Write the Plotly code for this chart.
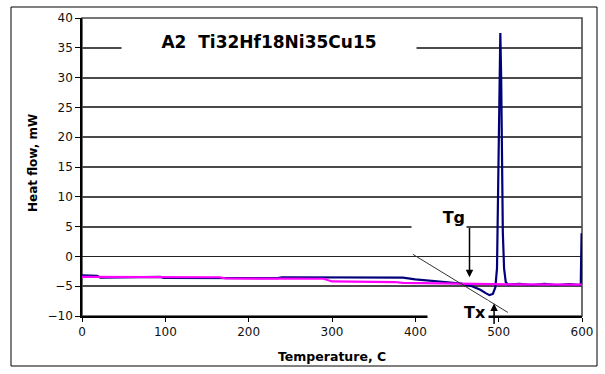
import plotly.graph_objects as go

# DSC scan of alloy A2 (Ti32Hf18Ni35Cu15): heating run and baseline run
blue_temp = [0, 18, 22, 65, 70, 94, 98, 150, 200, 235, 240, 300, 350, 385, 400, 420,
             440, 455, 468, 478, 485, 489, 493, 496, 498, 499, 500, 501, 502, 503,
             503.7, 504.3, 505, 506.5, 508.5, 511, 525, 540, 555, 570, 585, 598.5, 599.5]
blue_flow = [-3.2, -3.25, -3.55, -3.55, -3.45, -3.45, -3.6, -3.65, -3.7, -3.65, -3.5,
             -3.5, -3.5, -3.55, -3.85, -4.1, -4.35, -4.55, -5.0, -5.6, -6.2, -6.5, -6.3,
             -5.2, -2, 8, 22, 33, 37.5, 30, 21, 12.5, 4, -2, -4.3, -4.75, -4.6, -4.8,
             -4.6, -4.8, -4.65, -4.8, 3.9]

pink_temp = [0, 165, 172, 290, 300, 375, 385, 450, 520, 600]
pink_flow = [-3.45, -3.5, -3.7, -3.75, -4.2, -4.3, -4.45, -4.6, -4.7, -4.75]

# tangent used to locate the onset of crystallisation
tangent_temp = [397, 511]
tangent_flow = [0.35, -9.4]

# characteristic temperatures marked with arrows: (T, arrow tail, arrow head)
tg_mark = (465, 5.0, -3.5)
tx_mark = (494.5, -11.6, -7.9)

x_ticks = [0, 100, 200, 300, 400, 500, 600]
y_ticks = [-10, -5, 0, 5, 10, 15, 20, 25, 30, 35, 40]

title_text = "A2  Ti32Hf18Ni35Cu15"
x_title = "Temperature, C"
y_title = "Heat flow, mW"

FONT = "DejaVu Sans"
GRID = "#4a4a4a"

fig = go.Figure()
fig.add_trace(go.Scatter(x=blue_temp, y=blue_flow, mode="lines",
                         line=dict(color="#00007a", width=2.2), hoverinfo="skip"))
fig.add_trace(go.Scatter(x=pink_temp, y=pink_flow, mode="lines",
                         line=dict(color="#ff00ff", width=2.2), hoverinfo="skip"))
fig.add_trace(go.Scatter(x=tangent_temp, y=tangent_flow, mode="lines",
                         line=dict(color="#333333", width=1), hoverinfo="skip"))

ml, mr, mt, mb = 82, 23, 18, 58
W, H = 605, 374
pw, ph = W - ml - mr, H - mt - mb


def px_x(p):
    return (p - ml) / pw


def px_y(p):
    return (H - mb - p) / ph


# outer chart frame
fig.add_shape(type="rect", xref="paper", yref="paper",
              x0=px_x(11), x1=px_x(597), y0=px_y(366), y1=px_y(7),
              line=dict(color="#000000", width=1), layer="below")
# plot-area border
fig.add_shape(type="rect", xref="paper", yref="paper", x0=0, x1=1, y0=0, y1=1,
              line=dict(color=GRID, width=1.6), layer="below")

annotations = [
    # chart title on a white panel that interrupts the 35 gridline
    dict(text="<b>" + title_text + "</b>", xref="paper", yref="paper",
         x=px_x(268.5), y=px_y(42), xanchor="center", yanchor="middle",
         showarrow=False, bgcolor="white", width=290, borderpad=2,
         font=dict(family=FONT, size=17, color="black")),
    dict(text="<b>Tg</b>", xref="paper", yref="paper", x=px_x(439), y=px_y(218),
         xanchor="center", yanchor="middle",
         showarrow=False, bgcolor="white", width=52, align="right", borderpad=1,
         font=dict(family=FONT, size=16, color="black")),
    dict(text="<b>Tx</b>", xref="paper", yref="paper", x=px_x(458), y=px_y(312),
         xanchor="center", yanchor="middle", showarrow=False, bgcolor="white",
         width=56, align="right", borderpad=2,
         font=dict(family=FONT, size=16, color="black")),
    dict(text="", x=tg_mark[0], y=tg_mark[2], ax=tg_mark[0], ay=tg_mark[1],
         xref="x", yref="y", axref="x", ayref="y", showarrow=True,
         arrowhead=2, arrowsize=1, arrowwidth=1.5, arrowcolor="black"),
    dict(text="", x=tx_mark[0], y=tx_mark[2], ax=tx_mark[0], ay=tx_mark[1],
         xref="x", yref="y", axref="x", ayref="y", showarrow=True,
         arrowhead=2, arrowsize=1, arrowwidth=1.5, arrowcolor="black"),
    dict(text="<b>" + x_title + "</b>", xref="paper", yref="paper",
         x=px_x(332), y=px_y(356.5), xanchor="center", yanchor="middle",
         showarrow=False, font=dict(family=FONT, size=12.5, color="black")),
    dict(text="<b>" + y_title + "</b>", xref="paper", yref="paper",
         x=px_x(33), y=px_y(163), xanchor="center", yanchor="middle",
         textangle=-90, showarrow=False,
         font=dict(family=FONT, size=12, color="black")),
]

fig.update_layout(
    width=W, height=H,
    margin=dict(l=ml, r=mr, t=mt, b=mb, pad=0),
    paper_bgcolor="white", plot_bgcolor="white",
    showlegend=False,
    font=dict(family=FONT, size=12, color="black"),
    annotations=annotations,
    xaxis=dict(range=[0, 600], tickvals=x_ticks, ticks="outside", ticklen=4,
               tickwidth=1, tickcolor="black", showline=True, linecolor="black",
               linewidth=1.5, showgrid=False, zeroline=False,
               tickfont=dict(family=FONT, size=12, color="#111111")),
    yaxis=dict(range=[-10, 40], tickvals=y_ticks, ticks="outside", ticklen=5,
               tickwidth=1, tickcolor="black", showline=True, linecolor="black",
               linewidth=1.5, showgrid=True, gridcolor=GRID, gridwidth=1.6,
               zeroline=True, zerolinecolor="#222222", zerolinewidth=1.4,
               tickfont=dict(family=FONT, size=12, color="#111111")),
)

fig.write_html("out.html")
